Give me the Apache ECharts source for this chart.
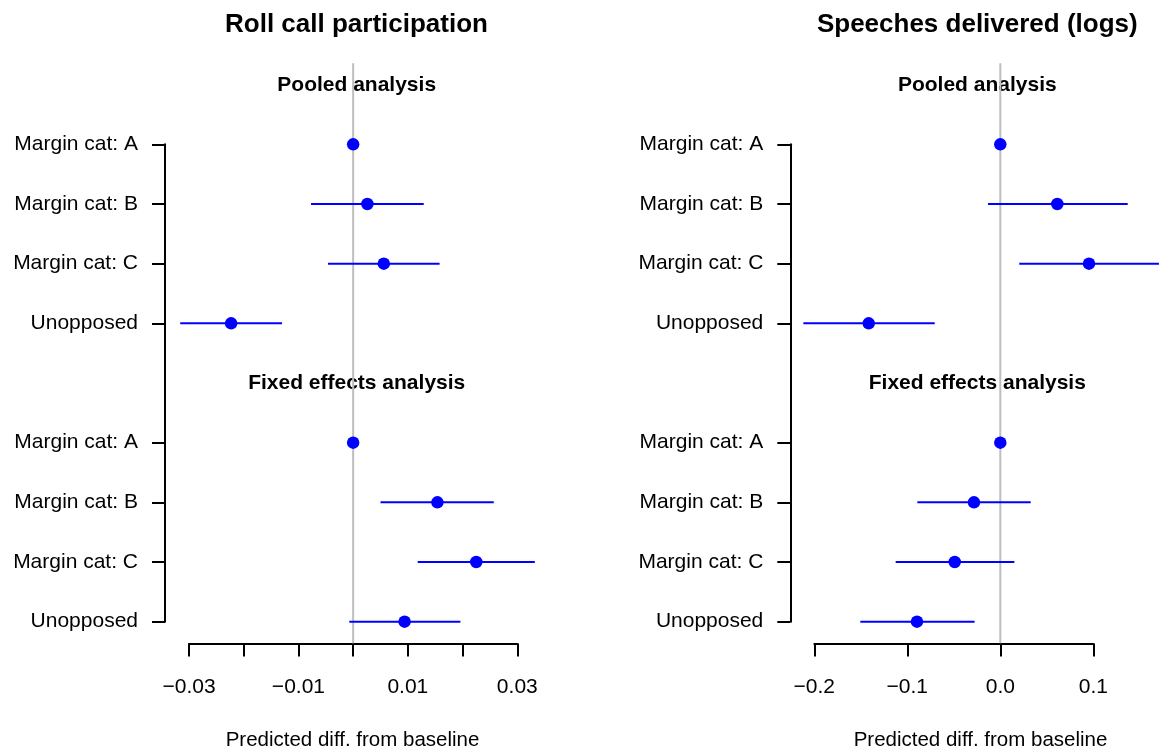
<!DOCTYPE html>
<html>
<head>
<meta charset="utf-8">
<script src="https://cdn.jsdelivr.net/npm/echarts@6/dist/echarts.min.js"></script>
<style>
html,body{margin:0;padding:0;background:#fff;}
#c{width:1162px;height:751px;}
</style>
</head>
<body>
<div id="c"></div>
<script>
// ---- data ----
const rowLabels = ['Margin cat: A', 'Margin cat: B', 'Margin cat: C', 'Unopposed'];
const sectionTitles = ['Pooled analysis', 'Fixed effects analysis'];
const panelTitles = ['Roll call participation', 'Speeches delivered (logs)'];
const xAxisTitle = 'Predicted diff. from baseline';
const pooledRows = [1, 2, 3, 4];
const feRows = [6, 7, 8, 9];

const rollPooledEst = [0, 0.0026, 0.0056, -0.0223];
const rollPooledLo  = [null, -0.0077, -0.0046, -0.0316];
const rollPooledHi  = [null, 0.0129, 0.0158, -0.0130];
const rollFeEst = [0, 0.0154, 0.0225, 0.0094];
const rollFeLo  = [null, 0.0050, 0.0118, -0.0007];
const rollFeHi  = [null, 0.0257, 0.0332, 0.0196];

const speechPooledEst = [0, 0.0613, 0.0954, -0.1415];
const speechPooledLo  = [null, -0.0132, 0.0204, -0.2118];
const speechPooledHi  = [null, 0.1370, 0.1706, -0.0705];
const speechFeEst = [0, -0.0283, -0.0490, -0.0896];
const speechFeLo  = [null, -0.0892, -0.1125, -0.1505];
const speechFeHi  = [null, 0.0327, 0.0151, -0.0276];

const rollTicks = [-0.03, -0.02, -0.01, 0, 0.01, 0.02, 0.03];
const rollTickLabels = [-0.03, -0.01, 0.01, 0.03];
const speechTicks = [-0.2, -0.1, 0, 0.1];
const speechTickLabels = [-0.2, -0.1, 0, 0.1];

// ---- build ----
const FONT = '"Liberation Sans", Arial, Helvetica, sans-serif';
const BLUE = '#0000ff';
const yRange = [-0.36, 9.36];

function pts(est, rows) { return est.map((v, i) => [v, rows[i]]); }
function cis(lo, hi, rows) {
  const out = [];
  lo.forEach((l, i) => { if (l !== null) out.push([rows[i], l, hi[i]]); });
  return out;
}
const yTickVals = pooledRows.concat(feRows);
const yLabelMap = {};
pooledRows.forEach((r, i) => yLabelMap[r] = rowLabels[i]);
feRows.forEach((r, i) => yLabelMap[r] = rowLabels[i]);

function fmt(dec) {
  return v => (v < -1e-9 ? '\u2212' : '') + Math.abs(v).toFixed(dec);
}

function xAxisDef(gi, ticks, labels, dec) {
  return {
    gridIndex: gi, type: 'value',
    min: ticks[0], max: ticks[ticks.length - 1],
    interval: Math.round((ticks[1] - ticks[0]) * 1e6) / 1e6,
    offset: 21.8,
    axisLine: { onZero: false, lineStyle: { color: '#000', width: 2 } },
    axisTick: { length: 13, customValues: ticks, lineStyle: { color: '#000', width: 2 } },
    axisLabel: { customValues: labels, formatter: fmt(dec), fontSize: 21, color: '#000', fontFamily: FONT, margin: 33 },
    splitLine: { show: false }
  };
}
function yAxisDef(gi) {
  return {
    gridIndex: gi, type: 'value', inverse: true, min: 1, max: 9, interval: 1,
    offset: 24,
    axisLine: { onZero: false, lineStyle: { color: '#000', width: 2 } },
    axisTick: { length: 13, customValues: yTickVals, lineStyle: { color: '#000', width: 2 } },
    axisLabel: { customValues: yTickVals, formatter: v => yLabelMap[v] || '', fontSize: 21, color: '#000',
                 fontFamily: FONT, margin: 27, padding: [5, 0, 0, 0] },
    splitLine: { show: false }
  };
}

function panelSeries(idx, pEst, pLo, pHi, fEst, fLo, fHi) {
  const ciData = cis(pLo, pHi, pooledRows).concat(cis(fLo, fHi, feRows));
  const ptData = pts(pEst, pooledRows).concat(pts(fEst, feRows));
  return [
    {
      type: 'line', xAxisIndex: idx, yAxisIndex: idx, silent: true, clip: false,
      data: [[0, yRange[0]], [0, yRange[1]]], symbol: 'none',
      lineStyle: { color: '#bebebe', width: 2 }, z: 1
    },
    {
      type: 'custom', xAxisIndex: idx, yAxisIndex: idx, silent: true, clip: false,
      data: ciData, z: 2,
      renderItem: function (params, api) {
        const p1 = api.coord([api.value(1), api.value(0)]);
        const p2 = api.coord([api.value(2), api.value(0)]);
        return { type: 'line', shape: { x1: p1[0], y1: p1[1], x2: p2[0], y2: p2[1] },
                 style: { stroke: BLUE, lineWidth: 2 } };
      }
    },
    {
      type: 'scatter', xAxisIndex: idx, yAxisIndex: idx, silent: true, clip: false,
      data: ptData, symbolSize: 12.5, itemStyle: { color: BLUE, opacity: 1 }, z: 3
    }
  ];
}

function txt(x, y, s, size, bold) {
  return { type: 'text', x: x, y: y, silent: true,
    style: { text: s, fontSize: size, fontWeight: bold ? 'bold' : 'normal', fontFamily: FONT,
             fill: '#000', align: 'center', verticalAlign: 'middle' } };
}

const option = {
  animation: false,
  backgroundColor: '#fff',
  grid: [
    { left: 189, top: 144.3, width: 328.3, height: 477.4 },
    { left: 814.3, top: 144.3, width: 279, height: 477.4 }
  ],
  xAxis: [xAxisDef(0, rollTicks, rollTickLabels, 2), xAxisDef(1, speechTicks, speechTickLabels, 1)],
  yAxis: [yAxisDef(0), yAxisDef(1)],
  series: panelSeries(0, rollPooledEst, rollPooledLo, rollPooledHi, rollFeEst, rollFeLo, rollFeHi)
    .concat(panelSeries(1, speechPooledEst, speechPooledLo, speechPooledHi, speechFeEst, speechFeLo, speechFeHi)),
  graphic: [
    txt(356.5, 25, panelTitles[0], 26, true),
    txt(977.3, 25, panelTitles[1], 26, true),
    txt(356.7, 85, sectionTitles[0], 21, true),
    txt(356.7, 383, sectionTitles[1], 21, true),
    txt(977.3, 85, sectionTitles[0], 21, true),
    txt(977.3, 383, sectionTitles[1], 21, true),
    txt(352.5, 740.5, xAxisTitle, 20.5, false),
    txt(980.5, 740.5, xAxisTitle, 20.5, false)
  ]
};

const chart = echarts.init(document.getElementById('c'), null, { renderer: 'canvas' });
chart.setOption(option);
</script>
</body>
</html>
